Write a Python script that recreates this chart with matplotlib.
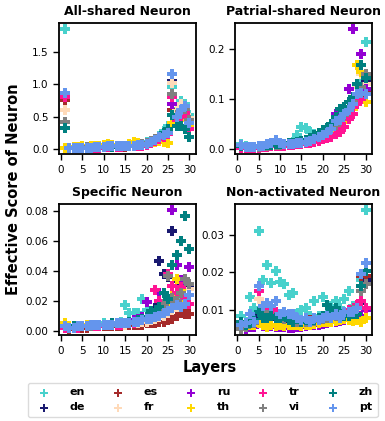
import matplotlib.pyplot as plt

layers = list(range(1, 31))
langs = ["en", "de", "es", "fr", "ru", "th", "tr", "vi", "zh", "pt"]
colors = ["mediumturquoise", "midnightblue", "brown", "peachpuff", "darkviolet",
          "gold", "deeppink", "grey", "teal", "cornflowerblue"]

all_shared = {
    "en": [1.85, 0.02, 0.02, 0.02, 0.02, 0.02, 0.03, 0.02, 0.03, 0.04, 0.05, 0.04, 0.05, 0.04, 0.04, 0.05, 0.06, 0.07, 0.07, 0.10, 0.13, 0.16, 0.20, 0.28, 0.36, 0.95, 0.62, 0.74, 0.70, 0.52],
    "de": [0.02, 0.01, 0.01, 0.02, 0.02, 0.02, 0.02, 0.03, 0.03, 0.03, 0.04, 0.04, 0.04, 0.03, 0.04, 0.05, 0.05, 0.06, 0.06, 0.08, 0.11, 0.14, 0.17, 0.22, 0.26, 1.05, 0.50, 0.58, 0.62, 0.45],
    "es": [0.75, 0.01, 0.02, 0.02, 0.01, 0.02, 0.02, 0.02, 0.03, 0.03, 0.03, 0.04, 0.03, 0.04, 0.03, 0.04, 0.05, 0.05, 0.06, 0.07, 0.10, 0.13, 0.16, 0.20, 0.24, 0.60, 0.55, 0.68, 0.58, 0.42],
    "fr": [0.60, 0.02, 0.02, 0.01, 0.02, 0.02, 0.03, 0.02, 0.03, 0.04, 0.04, 0.03, 0.04, 0.04, 0.05, 0.04, 0.06, 0.06, 0.07, 0.09, 0.12, 0.15, 0.19, 0.25, 0.30, 1.02, 0.58, 0.70, 0.64, 0.48],
    "ru": [0.02, 0.01, 0.01, 0.02, 0.01, 0.02, 0.02, 0.03, 0.02, 0.03, 0.03, 0.04, 0.04, 0.03, 0.04, 0.04, 0.05, 0.06, 0.06, 0.08, 0.10, 0.13, 0.16, 0.21, 0.25, 0.70, 0.45, 0.52, 0.50, 0.38],
    "th": [0.02, 0.02, 0.03, 0.03, 0.04, 0.03, 0.04, 0.05, 0.05, 0.06, 0.08, 0.06, 0.05, 0.04, 0.05, 0.07, 0.10, 0.09, 0.08, 0.07, 0.09, 0.11, 0.13, 0.10, 0.09, 0.40, 0.38, 0.45, 0.50, 0.35],
    "tr": [0.80, 0.01, 0.01, 0.01, 0.02, 0.01, 0.02, 0.02, 0.02, 0.03, 0.03, 0.03, 0.03, 0.03, 0.04, 0.04, 0.04, 0.05, 0.05, 0.06, 0.09, 0.12, 0.15, 0.19, 0.23, 0.80, 0.45, 0.50, 0.55, 0.30],
    "vi": [0.42, 0.02, 0.02, 0.02, 0.02, 0.03, 0.02, 0.03, 0.03, 0.03, 0.04, 0.04, 0.04, 0.05, 0.04, 0.05, 0.05, 0.06, 0.07, 0.09, 0.12, 0.15, 0.18, 0.23, 0.28, 0.85, 0.52, 0.60, 0.62, 0.44],
    "zh": [0.33, 0.02, 0.01, 0.02, 0.02, 0.02, 0.02, 0.03, 0.03, 0.03, 0.04, 0.03, 0.04, 0.04, 0.04, 0.05, 0.05, 0.06, 0.06, 0.08, 0.11, 0.14, 0.18, 0.24, 0.30, 0.52, 0.36, 0.35, 0.30, 0.18],
    "pt": [0.87, 0.02, 0.02, 0.02, 0.02, 0.02, 0.02, 0.03, 0.03, 0.03, 0.04, 0.04, 0.04, 0.04, 0.04, 0.05, 0.05, 0.06, 0.06, 0.08, 0.11, 0.14, 0.18, 0.22, 0.25, 1.15, 0.50, 0.60, 0.66, 0.40],
}

partial_shared = {
    "en": [0.010, 0.006, 0.004, 0.005, 0.006, 0.007, 0.008, 0.010, 0.012, 0.011, 0.010, 0.012, 0.015, 0.028, 0.045, 0.042, 0.035, 0.030, 0.033, 0.035, 0.038, 0.040, 0.045, 0.055, 0.065, 0.080, 0.090, 0.110, 0.130, 0.215],
    "de": [0.006, 0.004, 0.003, 0.004, 0.005, 0.006, 0.007, 0.008, 0.009, 0.009, 0.010, 0.010, 0.011, 0.012, 0.013, 0.015, 0.017, 0.020, 0.024, 0.028, 0.033, 0.040, 0.048, 0.058, 0.066, 0.075, 0.085, 0.100, 0.115, 0.135],
    "es": [0.005, 0.003, 0.003, 0.004, 0.004, 0.005, 0.006, 0.007, 0.008, 0.008, 0.009, 0.009, 0.010, 0.011, 0.012, 0.013, 0.015, 0.018, 0.021, 0.025, 0.030, 0.036, 0.043, 0.052, 0.060, 0.070, 0.080, 0.095, 0.105, 0.115],
    "fr": [0.007, 0.005, 0.004, 0.005, 0.005, 0.006, 0.007, 0.008, 0.010, 0.009, 0.010, 0.011, 0.012, 0.013, 0.014, 0.016, 0.018, 0.021, 0.025, 0.030, 0.035, 0.041, 0.050, 0.060, 0.075, 0.085, 0.095, 0.125, 0.150, 0.130],
    "ru": [0.006, 0.004, 0.003, 0.004, 0.005, 0.005, 0.006, 0.007, 0.009, 0.009, 0.009, 0.010, 0.011, 0.012, 0.013, 0.015, 0.017, 0.020, 0.024, 0.029, 0.035, 0.045, 0.070, 0.065, 0.080, 0.120, 0.240, 0.110, 0.190, 0.120],
    "th": [0.004, 0.003, 0.002, 0.003, 0.004, 0.004, 0.005, 0.006, 0.007, 0.007, 0.008, 0.008, 0.009, 0.010, 0.011, 0.012, 0.013, 0.015, 0.018, 0.021, 0.025, 0.030, 0.036, 0.045, 0.055, 0.065, 0.080, 0.168, 0.155, 0.095],
    "tr": [0.003, 0.002, 0.002, 0.003, 0.003, 0.004, 0.005, 0.006, 0.006, 0.007, 0.007, 0.008, 0.009, 0.010, 0.011, 0.012, 0.013, 0.015, 0.017, 0.020, 0.022, 0.025, 0.030, 0.035, 0.045, 0.060, 0.070, 0.090, 0.100, 0.110],
    "vi": [0.006, 0.004, 0.004, 0.004, 0.005, 0.006, 0.007, 0.008, 0.009, 0.009, 0.010, 0.010, 0.011, 0.012, 0.014, 0.015, 0.017, 0.020, 0.024, 0.028, 0.034, 0.040, 0.048, 0.058, 0.068, 0.080, 0.095, 0.110, 0.125, 0.150],
    "zh": [0.007, 0.005, 0.004, 0.005, 0.006, 0.007, 0.008, 0.009, 0.010, 0.010, 0.011, 0.012, 0.013, 0.014, 0.016, 0.018, 0.022, 0.028, 0.033, 0.038, 0.042, 0.050, 0.065, 0.080, 0.085, 0.095, 0.105, 0.130, 0.168, 0.142],
    "pt": [0.008, 0.005, 0.004, 0.005, 0.006, 0.007, 0.010, 0.012, 0.018, 0.012, 0.010, 0.010, 0.011, 0.012, 0.013, 0.015, 0.017, 0.020, 0.024, 0.028, 0.033, 0.040, 0.056, 0.058, 0.070, 0.078, 0.090, 0.110, 0.112, 0.110],
}

specific = {
    "en": [0.003, 0.002, 0.003, 0.003, 0.003, 0.004, 0.004, 0.004, 0.004, 0.005, 0.004, 0.005, 0.005, 0.006, 0.017, 0.012, 0.012, 0.012, 0.021, 0.014, 0.008, 0.011, 0.012, 0.015, 0.037, 0.020, 0.019, 0.020, 0.022, 0.024],
    "de": [0.002, 0.002, 0.002, 0.003, 0.003, 0.003, 0.003, 0.004, 0.004, 0.004, 0.004, 0.004, 0.005, 0.005, 0.005, 0.006, 0.006, 0.007, 0.008, 0.009, 0.011, 0.015, 0.047, 0.038, 0.036, 0.067, 0.033, 0.030, 0.032, 0.030],
    "es": [0.002, 0.001, 0.002, 0.002, 0.002, 0.002, 0.003, 0.003, 0.003, 0.003, 0.003, 0.003, 0.003, 0.003, 0.004, 0.004, 0.004, 0.004, 0.004, 0.005, 0.005, 0.005, 0.006, 0.006, 0.007, 0.008, 0.010, 0.012, 0.011, 0.011],
    "fr": [0.003, 0.002, 0.002, 0.002, 0.003, 0.003, 0.003, 0.003, 0.003, 0.004, 0.004, 0.004, 0.004, 0.004, 0.004, 0.005, 0.005, 0.005, 0.006, 0.006, 0.007, 0.008, 0.009, 0.010, 0.012, 0.014, 0.016, 0.018, 0.022, 0.028],
    "ru": [0.003, 0.002, 0.002, 0.003, 0.003, 0.003, 0.003, 0.004, 0.004, 0.004, 0.004, 0.004, 0.005, 0.005, 0.005, 0.006, 0.007, 0.008, 0.009, 0.019, 0.010, 0.027, 0.025, 0.014, 0.018, 0.081, 0.044, 0.034, 0.034, 0.043],
    "th": [0.005, 0.003, 0.003, 0.003, 0.003, 0.004, 0.004, 0.004, 0.004, 0.004, 0.004, 0.005, 0.005, 0.005, 0.005, 0.005, 0.006, 0.006, 0.007, 0.008, 0.009, 0.010, 0.011, 0.013, 0.015, 0.023, 0.035, 0.027, 0.020, 0.018],
    "tr": [0.002, 0.002, 0.002, 0.002, 0.003, 0.003, 0.003, 0.003, 0.003, 0.004, 0.004, 0.004, 0.004, 0.004, 0.005, 0.005, 0.005, 0.006, 0.007, 0.008, 0.009, 0.027, 0.020, 0.013, 0.038, 0.030, 0.025, 0.029, 0.022, 0.018],
    "vi": [0.003, 0.002, 0.002, 0.003, 0.003, 0.003, 0.003, 0.004, 0.004, 0.004, 0.004, 0.004, 0.005, 0.005, 0.005, 0.005, 0.006, 0.007, 0.008, 0.009, 0.010, 0.011, 0.013, 0.018, 0.037, 0.022, 0.020, 0.025, 0.035, 0.031],
    "zh": [0.003, 0.002, 0.003, 0.003, 0.003, 0.003, 0.004, 0.004, 0.004, 0.004, 0.004, 0.005, 0.005, 0.005, 0.005, 0.006, 0.006, 0.007, 0.008, 0.009, 0.013, 0.012, 0.016, 0.025, 0.021, 0.044, 0.051, 0.060, 0.077, 0.055],
    "pt": [0.003, 0.002, 0.002, 0.003, 0.003, 0.003, 0.004, 0.004, 0.004, 0.004, 0.004, 0.004, 0.005, 0.005, 0.005, 0.005, 0.006, 0.006, 0.007, 0.008, 0.008, 0.009, 0.010, 0.012, 0.013, 0.015, 0.017, 0.016, 0.018, 0.024],
}

non_activated = {
    "en": [0.0085, 0.0070, 0.0135, 0.0105, 0.0310, 0.0180, 0.0220, 0.0172, 0.0205, 0.0175, 0.0170, 0.0140, 0.0145, 0.0090, 0.0100, 0.0105, 0.0085, 0.0125, 0.0085, 0.0135, 0.0090, 0.0110, 0.0125, 0.0105, 0.0130, 0.0150, 0.0110, 0.0095, 0.0180, 0.0365],
    "de": [0.0060, 0.0058, 0.0070, 0.0065, 0.0085, 0.0080, 0.0085, 0.0080, 0.0078, 0.0080, 0.0075, 0.0072, 0.0070, 0.0070, 0.0068, 0.0070, 0.0068, 0.0072, 0.0075, 0.0078, 0.0080, 0.0082, 0.0085, 0.0085, 0.0088, 0.0090, 0.0092, 0.0095, 0.0120, 0.0180],
    "es": [0.0065, 0.0060, 0.0075, 0.0070, 0.0150, 0.0100, 0.0105, 0.0100, 0.0095, 0.0090, 0.0088, 0.0085, 0.0080, 0.0078, 0.0075, 0.0075, 0.0073, 0.0075, 0.0078, 0.0080, 0.0082, 0.0085, 0.0088, 0.0090, 0.0092, 0.0095, 0.0098, 0.0100, 0.0190, 0.0190],
    "fr": [0.0060, 0.0058, 0.0072, 0.0068, 0.0130, 0.0090, 0.0095, 0.0092, 0.0090, 0.0085, 0.0082, 0.0080, 0.0078, 0.0075, 0.0072, 0.0072, 0.0070, 0.0072, 0.0075, 0.0078, 0.0080, 0.0082, 0.0085, 0.0088, 0.0090, 0.0092, 0.0095, 0.0098, 0.0150, 0.0170],
    "ru": [0.0055, 0.0050, 0.0055, 0.0055, 0.0065, 0.0058, 0.0060, 0.0058, 0.0057, 0.0055, 0.0055, 0.0052, 0.0053, 0.0055, 0.0055, 0.0058, 0.0060, 0.0060, 0.0062, 0.0063, 0.0065, 0.0068, 0.0070, 0.0072, 0.0075, 0.0078, 0.0080, 0.0082, 0.0085, 0.0100],
    "th": [0.0070, 0.0065, 0.0060, 0.0062, 0.0065, 0.0060, 0.0055, 0.0062, 0.0058, 0.0060, 0.0058, 0.0060, 0.0062, 0.0060, 0.0058, 0.0060, 0.0062, 0.0063, 0.0065, 0.0068, 0.0068, 0.0070, 0.0072, 0.0075, 0.0078, 0.0075, 0.0072, 0.0075, 0.0070, 0.0080],
    "tr": [0.0065, 0.0062, 0.0075, 0.0070, 0.0150, 0.0100, 0.0098, 0.0102, 0.0095, 0.0090, 0.0085, 0.0082, 0.0080, 0.0078, 0.0075, 0.0075, 0.0072, 0.0075, 0.0078, 0.0080, 0.0082, 0.0085, 0.0088, 0.0090, 0.0095, 0.0100, 0.0098, 0.0115, 0.0125, 0.0105],
    "vi": [0.0050, 0.0055, 0.0070, 0.0065, 0.0095, 0.0085, 0.0088, 0.0085, 0.0082, 0.0080, 0.0078, 0.0075, 0.0072, 0.0070, 0.0072, 0.0070, 0.0070, 0.0072, 0.0075, 0.0078, 0.0080, 0.0082, 0.0085, 0.0088, 0.0090, 0.0095, 0.0100, 0.0105, 0.0150, 0.0170],
    "zh": [0.0070, 0.0060, 0.0065, 0.0075, 0.0095, 0.0080, 0.0080, 0.0085, 0.0080, 0.0080, 0.0085, 0.0075, 0.0070, 0.0080, 0.0070, 0.0075, 0.0070, 0.0075, 0.0080, 0.0085, 0.0115, 0.0095, 0.0105, 0.0090, 0.0085, 0.0085, 0.0090, 0.0090, 0.0165, 0.0205],
    "pt": [0.0060, 0.0065, 0.0090, 0.0070, 0.0165, 0.0110, 0.0120, 0.0110, 0.0125, 0.0090, 0.0095, 0.0090, 0.0090, 0.0080, 0.0075, 0.0080, 0.0070, 0.0080, 0.0075, 0.0080, 0.0085, 0.0080, 0.0090, 0.0080, 0.0095, 0.0095, 0.0095, 0.0105, 0.0195, 0.0225],
}

panels = [
    ("All-shared Neuron", all_shared, [0.0, 0.5, 1.0, 1.5]),
    ("Patrial-shared Neuron", partial_shared, [0.0, 0.1, 0.2]),
    ("Specific Neuron", specific, [0.0, 0.02, 0.04, 0.06, 0.08]),
    ("Non-activated Neuron", non_activated, [0.01, 0.02, 0.03]),
]

fig, axes = plt.subplots(2, 2, figsize=(3.85, 4.21), dpi=100)
fig.subplots_adjust(left=0.153, right=0.966, top=0.945, bottom=0.204,
                    wspace=0.29, hspace=0.38)

for ax, (title, data, yticks) in zip(axes.flat, panels):
    for lang, color in zip(langs, colors):
        ax.scatter(layers, data[lang], marker="P", s=55, color=color,
                   linewidths=0, label=lang)
    ax.set_title(title, fontsize=9, fontweight="bold", pad=6)
    ax.set_xticks([0, 5, 10, 15, 20, 25, 30])
    ax.set_yticks(yticks)
    ax.tick_params(labelsize=7.5, length=4, width=1)
    for sp in ax.spines.values():
        sp.set_linewidth(1.3)

fig.text(0.036, 0.55, "Effective Score of Neuron", rotation=90,
         ha="center", va="center", fontsize=10.5, fontweight="bold")
fig.text(0.545, 0.126, "Layers", ha="center", va="center",
         fontsize=10.5, fontweight="bold")

handles, labels = axes[0, 0].get_legend_handles_labels()
fig.legend(handles, labels, loc="center", bbox_to_anchor=(0.527, 0.05),
           ncol=5, prop={"weight": "bold", "size": 8}, markerscale=0.7,
           handletextpad=1.3, columnspacing=2.0, labelspacing=0.45,
           borderpad=0.4, edgecolor="lightgrey", fancybox=True)

fig.savefig("out.png", dpi=100)
